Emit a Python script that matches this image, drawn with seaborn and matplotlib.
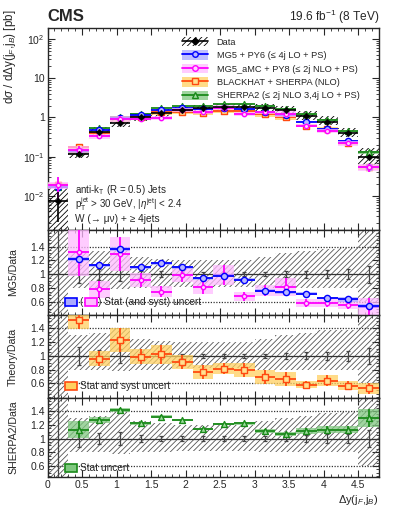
import numpy as np
import pandas as pd
import matplotlib
matplotlib.use("Agg")
import matplotlib.pyplot as plt
import seaborn as sns
from matplotlib.patches import Patch, Rectangle
from matplotlib.lines import Line2D
from matplotlib.ticker import FixedLocator, FixedFormatter, MultipleLocator, LogLocator, NullFormatter

# ---------------- data ----------------
edges = [0.0, 0.3, 0.6, 0.9, 1.2, 1.5, 1.8, 2.1, 2.4, 2.7, 3.0, 3.3, 3.6, 3.9, 4.2, 4.5, 4.8]
data_xsec = [0.0072, 0.115, 0.42, 0.72, 1.02, 1.32, 1.55, 1.72, 1.80, 1.80, 1.78, 1.52, 1.07, 0.78, 0.39, 0.10]
data_stat = [0.70, 0.13, 0.08, 0.10, 0.05, 0.04, 0.03, 0.03, 0.03, 0.03, 0.03, 0.04, 0.05, 0.06, 0.07, 0.12]
data_syst_up = [1.40, 0.30, 0.33, 0.40, 0.25, 0.22, 0.20, 0.20, 0.20, 0.20, 0.25, 0.30, 0.33, 0.37, 0.38, 0.70]
data_syst_dn = [1.00, 0.20, 0.20, 0.22, 0.20, 0.20, 0.18, 0.18, 0.18, 0.18, 0.20, 0.20, 0.20, 0.20, 0.20, 0.40]

mg5_ratio = [2.40, 1.22, 1.13, 1.37, 1.10, 1.16, 1.10, 0.94, 0.98, 0.92, 0.76, 0.74, 0.72, 0.655, 0.635, 0.54]
mg5_err = [0.15, 0.03, 0.02, 0.03, 0.02, 0.02, 0.02, 0.02, 0.02, 0.02, 0.02, 0.02, 0.02, 0.02, 0.03, 0.03]
amc_ratio = [2.60, 1.32, 0.78, 1.29, 0.92, 0.75, 0.99, 0.82, 0.99, 0.68, 0.76, 0.82, 0.58, 0.58, 0.56, 0.53]
amc_err = [1.60, 0.35, 0.12, 0.25, 0.10, 0.08, 0.10, 0.10, 0.15, 0.07, 0.08, 0.13, 0.06, 0.06, 0.07, 0.12]
bh_ratio = [2.70, 1.52, 0.96, 1.23, 0.99, 1.02, 0.91, 0.76, 0.81, 0.79, 0.69, 0.66, 0.58, 0.64, 0.57, 0.53]
bh_err = [0.30, 0.13, 0.11, 0.17, 0.11, 0.14, 0.10, 0.10, 0.08, 0.10, 0.10, 0.10, 0.05, 0.08, 0.07, 0.08]
sh2_ratio = [2.40, 1.13, 1.27, 1.41, 1.22, 1.32, 1.27, 1.14, 1.21, 1.22, 1.11, 1.06, 1.11, 1.13, 1.13, 1.30]
sh2_err = [0.20, 0.12, 0.04, 0.03, 0.02, 0.02, 0.02, 0.02, 0.02, 0.02, 0.03, 0.03, 0.04, 0.05, 0.05, 0.13]

legend_labels = ["Data", "MG5 + PY6 (\u2264 4j LO + PS)", "MG5_aMC + PY8 (\u2264 2j NLO + PS)",
                 "BLACKHAT + SHERPA (NLO)", "SHERPA2 (\u2264 2j NLO 3,4j LO + PS)"]

# ---------------- style ----------------
sns.set_style("ticks")
plt.rcParams["font.family"] = ["Liberation Sans", "DejaVu Sans"]
plt.rcParams["mathtext.fontset"] = "custom"
plt.rcParams["mathtext.rm"] = "Liberation Sans"
plt.rcParams["mathtext.it"] = "Liberation Sans:italic"
plt.rcParams["mathtext.bf"] = "Liberation Sans:bold"
plt.rcParams["hatch.linewidth"] = 0.6
plt.rcParams["axes.linewidth"] = 1.0

edges = np.array(edges)
centers = 0.5 * (edges[:-1] + edges[1:])
hw = 0.5 * (edges[1:] - edges[:-1])
data = np.array(data_xsec)

models = {
    "mg5": dict(r=np.array(mg5_ratio), e=np.array(mg5_err), band="#aaaaff", line="#0000ff",
                marker="o", mfc="#b8b8ff", ms=20),
    "amc": dict(r=np.array(amc_ratio), e=np.array(amc_err), band="#ffbbff", line="#ff00ff",
                marker="o", mfc="#ffd0ff", ms=10),
    "bh": dict(r=np.array(bh_ratio), e=np.array(bh_err), band="#ffd060", line="#ff4a10",
               marker="s", mfc="#ffe090", ms=18),
    "sh2": dict(r=np.array(sh2_ratio), e=np.array(sh2_err), band="#80c880", line="#1a8a1a",
                marker="^", mfc="#a0dca0", ms=18),
}

W, H = 399, 516
fig = plt.figure(figsize=(W / 100, H / 100), dpi=100)
xl = 47.5 / W
xw = (379 - 47.5) / W

def axpos(top, bot):
    return [xl, 1 - bot / H, xw, (bot - top) / H]

ax0 = fig.add_axes(axpos(28, 230))
ax1 = fig.add_axes(axpos(230, 315))
ax2 = fig.add_axes(axpos(315, 398))
ax3 = fig.add_axes(axpos(398, 477))

# ---------------- top panel ----------------
ax0.set_yscale("log")
up = data * (1 + np.array(data_syst_up))
dn = np.clip(data * (1 - np.array(data_syst_dn)), 1e-6, None)
ax0.bar(centers, up - dn, bottom=dn, width=2 * hw, facecolor="none", edgecolor="black",
        hatch="//////", linewidth=0, zorder=1)

def draw_model(ax, x, y, e, m, xerrw, z, band_cap=None):
    be = e if band_cap is None else np.minimum(e, band_cap * y)
    ax.bar(x, 2 * be, bottom=y - be, width=2 * xerrw, color=m["band"], alpha=0.75,
           linewidth=0, zorder=z)
    ax.errorbar(x, y, xerr=xerrw, yerr=e, fmt="none", ecolor=m["line"], elinewidth=1.3,
                capsize=0, zorder=z + 1)
    sns.scatterplot(x=x, y=y, marker=m["marker"], s=m["ms"], facecolor=m["mfc"],
                    edgecolor=m["line"], linewidth=1.0, ax=ax, zorder=z + 2, legend=False)

order = ["sh2", "bh", "mg5", "amc"]
for i, k in enumerate(order):
    m = models[k]
    draw_model(ax0, centers, data * m["r"], data * m["e"], m, hw, 3 + 3 * i, band_cap=0.2)

ax0.errorbar(centers, data, xerr=hw, yerr=data * np.array(data_stat),
             fmt="none", ecolor="black", elinewidth=1.2, capsize=0, zorder=20)
sns.scatterplot(x=centers, y=data, marker="D", s=12, color="black", edgecolor="black",
                ax=ax0, zorder=21, legend=False)

ax0.set_xlim(0, 4.8)
ax0.set_ylim(10 ** -2.87, 10 ** 2.28)
ax0.yaxis.set_major_locator(FixedLocator([1e-2, 1e-1, 1, 10, 100]))
ax0.yaxis.set_major_formatter(FixedFormatter(["$10^{-2}$", "$10^{-1}$", "1", "10", "$10^{2}$"]))
ax0.yaxis.set_minor_locator(LogLocator(base=10, subs=np.arange(2, 10), numticks=20))
ax0.yaxis.set_minor_formatter(NullFormatter())
ax0.set_ylabel(r"d$\sigma$ / d$\Delta$y(j$_{F}$,j$_{B}$) [pb]", fontsize=8.4, loc="top")

handles = [
    (Patch(facecolor="none", edgecolor="black", hatch="//////", linewidth=0),
     Line2D([], [], color="black", marker="D", ms=3.5, lw=1.2)),
]
for k in ["mg5", "amc", "bh", "sh2"]:
    m = models[k]
    handles.append((Patch(facecolor=m["band"], alpha=0.75, linewidth=0),
                    Line2D([], [], color=m["line"], lw=1.3, marker=m["marker"], ms=4,
                           mfc=m["mfc"], mec=m["line"])))
ax0.legend(handles, legend_labels, loc="upper left", bbox_to_anchor=(0.395, 0.975),
           frameon=False, fontsize=6.7, handlelength=2.8, handleheight=1.2,
           labelspacing=0.38, handletextpad=0.9, borderaxespad=0)

ax0.text(0.083, (230 - 190) / 202.0, r"anti-k$_{\rm T}$ (R = 0.5) Jets", transform=ax0.transAxes,
         fontsize=7.0, va="center")
ax0.text(0.083, (230 - 204.5) / 202.0, r"p$_{\rm T}^{\rm jet}$ > 30 GeV, |$\eta^{\rm jet}$| < 2.4",
         transform=ax0.transAxes, fontsize=7.0, va="center")
ax0.text(0.083, (230 - 219.5) / 202.0, "W (\u2192 \u03bc\u03bd) + \u2265 4jets", transform=ax0.transAxes,
         fontsize=7.3, va="center")

fig.text(xl, 1 - 21 / H, "CMS", fontsize=12, fontweight="bold", ha="left", va="baseline")
fig.text(xl + xw, 1 - 21 / H, r"19.6 fb$^{-1}$ (8 TeV)", fontsize=8.6, ha="right", va="baseline")

# ---------------- ratio panels ----------------
ratio_specs = [
    (ax1, ["mg5", "amc"], "MG5/Data", (0.41, 1.64)),
    (ax2, ["bh"], "Theory/Data", (0.39, 1.59)),
    (ax3, ["sh2"], "SHERPA2/Data", (0.44, 1.59)),
]
su = np.array(data_syst_up)
sd = np.array(data_syst_dn)
st = np.array(data_stat)
for ax, keys, lab, yl in ratio_specs:
    ax.bar(centers, su + sd, bottom=1 - sd, width=2 * hw, facecolor="none", edgecolor="#555555",
           hatch="//////", linewidth=0, zorder=1)
    ax.axhline(1, color="#333333", lw=0.9, zorder=2)
    ax.axhline(1.4, color="#333333", lw=0.9, ls=(0, (1, 1.2)), zorder=2)
    ax.axhline(0.6, color="#333333", lw=0.9, ls=(0, (1, 1.2)), zorder=2)
    ax.errorbar(centers, np.ones_like(centers), yerr=st, fmt="none", ecolor="#444444",
                elinewidth=0.9, capsize=1.5, capthick=0.9, zorder=3)
    for i, k in enumerate(keys):
        m = models[k]
        z = 8 if k == "mg5" else 5
        draw_model(ax, centers[1:], m["r"][1:], m["e"][1:], m, hw[1:], z)
    ax.set_xlim(0, 4.8)
    ax.set_ylim(*yl)
    ax.yaxis.set_major_locator(FixedLocator([0.6, 0.8, 1.0, 1.2, 1.4]))
    ax.yaxis.set_major_formatter(FixedFormatter(["0.6", "0.8", "1", "1.2", "1.4"]))
    ax.yaxis.set_minor_locator(MultipleLocator(0.05))
    ax.set_ylabel(lab, fontsize=7.6)

# ratio legends
def box(ax, x0, yc, color, edge):
    h = 8.0 / (ax.get_position().height * H)
    ax.add_patch(Rectangle((x0, yc - h / 2), 0.037, h, transform=ax.transAxes, facecolor=color,
                           edgecolor=edge, lw=1.2, zorder=30, clip_on=False))

box(ax1, 0.053, 0.15, "#aaaaff", "#0000ff")
ax1.text(0.095, 0.15, "(", transform=ax1.transAxes, fontsize=7.3, va="center", zorder=31)
box(ax1, 0.113, 0.15, "#ffbbff", "#ff00ff")
ax1.text(0.152, 0.15, ") Stat (and syst) uncert", transform=ax1.transAxes, fontsize=7.3,
         va="center", zorder=31)
box(ax2, 0.053, 0.148, "#ffd060", "#ff4a10")
ax2.text(0.098, 0.148, "Stat and syst uncert", transform=ax2.transAxes, fontsize=7.3,
         va="center", zorder=31)
box(ax3, 0.053, 0.118, "#80c880", "#1a8a1a")
ax3.text(0.098, 0.118, "Stat uncert", transform=ax3.transAxes, fontsize=7.3,
         va="center", zorder=31)

for ax in [ax0, ax1, ax2, ax3]:
    ax.xaxis.set_major_locator(MultipleLocator(0.5))
    ax.xaxis.set_minor_locator(MultipleLocator(0.1))
    ax.tick_params(which="both", direction="in", top=True, right=True, labelsize=7.5, pad=2)
    ax.tick_params(which="major", length=5, width=0.8)
    ax.tick_params(which="minor", length=2.5, width=0.6)
    if ax is not ax3:
        ax.tick_params(labelbottom=False)
    for s in ax.spines.values():
        s.set_linewidth(1.0)

ax3.xaxis.set_major_locator(FixedLocator([0, 0.5, 1, 1.5, 2, 2.5, 3, 3.5, 4, 4.5]))
ax3.xaxis.set_major_formatter(FixedFormatter(["0", "0.5", "1", "1.5", "2", "2.5", "3", "3.5", "4", "4.5"]))
ax3.set_xlabel(r"$\Delta$y(j$_{F}$,j$_{B}$)", fontsize=8, loc="right", labelpad=2)

# y label positions
lx = (18 - 47.5) / (xw * W)
ax0.yaxis.set_label_coords(lx, (230 - 10) / 202.0)
ax0.yaxis.label.set_ha("right")
for ax in [ax1, ax2, ax3]:
    ax.yaxis.set_label_coords(lx, 0.5)

fig.savefig("out.png", dpi=100)
